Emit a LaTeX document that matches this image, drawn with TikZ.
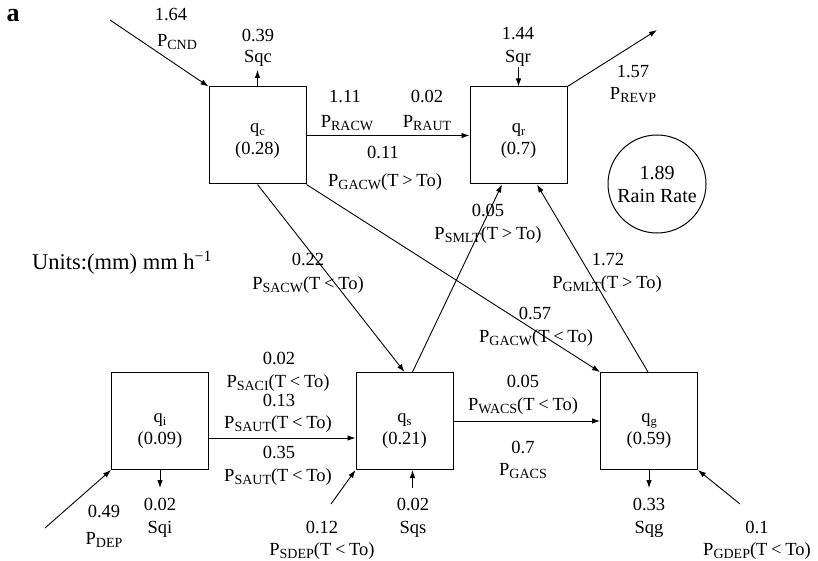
\documentclass[tikz,border=0pt]{standalone}
\usepackage{fontspec}
\setmainfont{Liberation Serif}
\usetikzlibrary{arrows.meta}
\newcommand\sbs[1]{\raisebox{-3pt}{\fontsize{14}{14}\selectfont #1}}
\newcommand\qsb[1]{\raisebox{-3pt}{\fontsize{12.5}{12.5}\selectfont #1}}
\newcommand\ths{\hspace{0.2em}}
\newcommand\boxtxt[3]{\raisebox{#1}[\height][\depth]{\renewcommand\arraystretch{1.05}\begin{tabular}{@{}c@{}}q\qsb{#2}\\(#3)\end{tabular}}}
\begin{document}
\begin{tikzpicture}[x=1pt,y=-1pt,
  box/.style={draw, line width=1pt, minimum width=97pt, minimum height=97pt, inner sep=0pt, align=center, font=\fontsize{18.5}{21}\selectfont},
  lbl/.style={inner sep=0pt, anchor=base, font=\fontsize{18.5}{21}\selectfont},
  flow/.style={draw, line width=0.9pt, -{Latex[length=8pt,width=5.5pt]}}]
\useasboundingbox (0,0) rectangle (818,561);

% boxes
\node[box] (qc) at (257.5,135.5) {\boxtxt{-4pt}{c}{0.28}};
\node[box] (qr) at (518.5,135.5) {\boxtxt{-4pt}{r}{0.7}};
\node[box] (qi) at (160,421) {\boxtxt{-8pt}{i}{0.09}};
\node[box] (qs) at (404.5,421) {\boxtxt{-8pt}{s}{0.21}};
\node[box] (qg) at (649,421) {\boxtxt{-8pt}{g}{0.59}};
\node[draw, line width=1pt, circle, minimum size=98pt, inner sep=0pt, align=center, font=\fontsize{20}{23}\selectfont] (rain) at (657,184) {1.89\\Rain Rate};

% free ends
\coordinate (cndS) at (110,20);
\coordinate (sqcE) at (257.5,70);
\coordinate (sqrS) at (518.5,67);
\coordinate (revpE) at (657,30);
\coordinate (depS) at (45,528);
\coordinate (sqiE) at (160,488);
\coordinate (sdepS) at (331,504);
\coordinate (sqsS) at (412.5,488);
\coordinate (sqgE) at (649,488);
\coordinate (gdepS) at (740,504);

% connectors
\draw[flow] (cndS) -- (qc.north west);
\draw[flow] (qc.north) -- (sqcE);
\draw[flow] (sqrS) -- (qr.north);
\draw[flow] (qr.north east) -- (revpE);
\draw[flow] (qc.east) -- (qr.west);
\draw[flow] (qc.south) -- (qs.north);
\draw[flow] (qc.south east) -- (qg.north west);
\draw[flow] ([xshift=8pt]qs.north) -- ([xshift=-16.5pt]qr.south);
\draw[flow] ([xshift=-1pt]qg.north) -- ([xshift=18.5pt]qr.south);
\draw[flow] ([yshift=-17pt]qi.east) -- ([yshift=-17pt]qs.west);
\draw[flow] (qs.east) -- (qg.west);
\draw[flow] (depS) -- (qi.south west);
\draw[flow] (qi.south) -- (sqiE);
\draw[flow] (sdepS) -- (qs.south west);
\draw[flow] (sqsS) -- ([xshift=8pt]qs.south);
\draw[flow] (qg.south) -- (sqgE);
\draw[flow] (gdepS) -- (qg.south east);

% labels
\node[inner sep=0pt, anchor=base, font=\fontsize{26}{26}\selectfont\bfseries] (lbla) at (13,22) {a};
\node[lbl] (l1) at (171,21) {1.64};
\node[lbl] (l2) at (177,47) {P\sbs{CND}};
\node[lbl] (l3) at (258,42) {0.39};
\node[lbl] (l4) at (258,63) {Sqc};
\node[lbl] (l5) at (345,103) {1.11};
\node[lbl] (l6) at (347,128) {P\sbs{RACW}};
\node[lbl] (l7) at (427,103) {0.02};
\node[lbl] (l8) at (427,128) {P\sbs{RAUT}};
\node[lbl] (l9) at (383,159) {0.11};
\node[lbl] (l10) at (385,187) {P\sbs{GACW}(T\ths>\ths To)};
\node[lbl] (l11) at (518,40) {1.44};
\node[lbl] (l12) at (518,63) {Sqr};
\node[lbl] (l13) at (633,78) {1.57};
\node[lbl] (l14) at (633,100) {P\sbs{REVP}};
\node[inner sep=0pt, anchor=base west, font=\fontsize{22.5}{25}\selectfont] (units) at (32,269) {Units:(mm) mm h\textsuperscript{−1}};
\node[lbl] (l15) at (308,265) {0.22};
\node[lbl] (l16) at (308,289) {P\sbs{SACW}(T\ths<\ths To)};
\node[lbl] (l17) at (488,216) {0.05};
\node[lbl] (l18) at (488,239) {P\sbs{SMLT}(T\ths>\ths To)};
\node[lbl] (l19) at (608,265) {1.72};
\node[lbl] (l20) at (607,288) {P\sbs{GMLT}(T\ths>\ths To)};
\node[lbl] (l21) at (535,319) {0.57};
\node[lbl] (l22) at (536,342) {P\sbs{GACW}(T\ths<\ths To)};
\node[lbl] (l23) at (279,364) {0.02};
\node[lbl] (l24) at (278,387) {P\sbs{SACI}(T\ths<\ths To)};
\node[lbl] (l25) at (279,406) {0.13};
\node[lbl] (l26) at (278,428) {P\sbs{SAUT}(T\ths<\ths To)};
\node[lbl] (l27) at (279,458) {0.35};
\node[lbl] (l28) at (278,481) {P\sbs{SAUT}(T\ths<\ths To)};
\node[lbl] (l29) at (104,517) {0.49};
\node[lbl] (l30) at (104,544) {P\sbs{DEP}};
\node[lbl] (l31) at (160,510) {0.02};
\node[lbl] (l32) at (160,533) {Sqi};
\node[lbl] (l33) at (322,533) {0.12};
\node[lbl] (l34) at (322,555) {P\sbs{SDEP}(T\ths<\ths To)};
\node[lbl] (l35) at (413,510) {0.02};
\node[lbl] (l36) at (413,533) {Sqs};
\node[lbl] (l37) at (523,387) {0.05};
\node[lbl] (l38) at (523,410) {P\sbs{WACS}(T\ths<\ths To)};
\node[lbl] (l39) at (523,453) {0.7};
\node[lbl] (l40) at (523,475) {P\sbs{GACS}};
\node[lbl] (l41) at (649,510) {0.33};
\node[lbl] (l42) at (649,533) {Sqg};
\node[lbl] (l43) at (757,533) {0.1};
\node[lbl] (l44) at (757,555) {P\sbs{GDEP}(T\ths<\ths To)};
\end{tikzpicture}
\end{document}
